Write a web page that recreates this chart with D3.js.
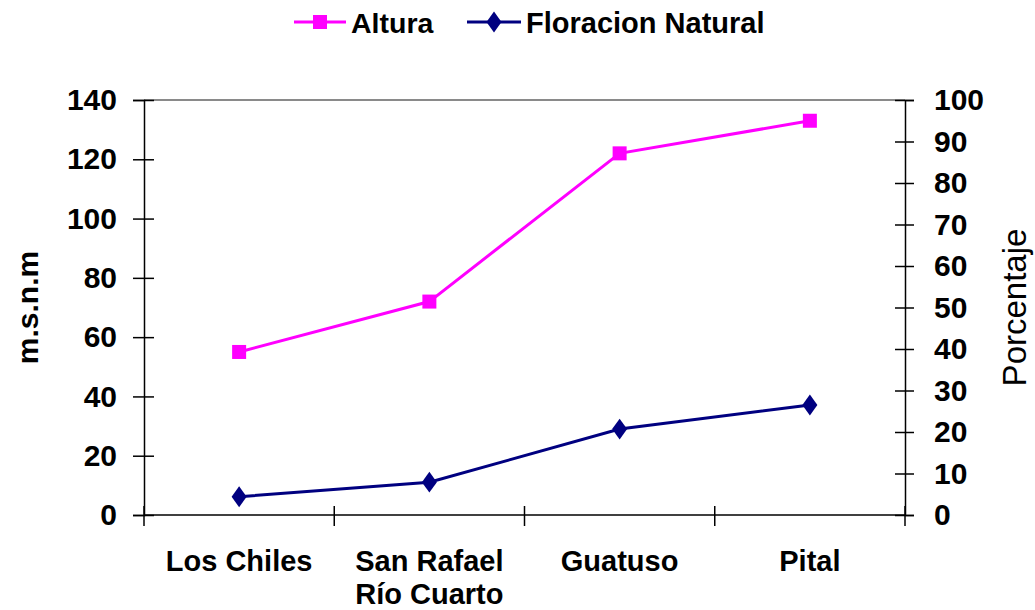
<!DOCTYPE html>
<html>
<head>
<meta charset="utf-8">
<script src="https://cdn.jsdelivr.net/npm/d3@7"></script>
<style>
  body { margin: 0; background: #fff; }
  text { font-family: "Liberation Sans", Arial, sans-serif; fill: #000; }
</style>
</head>
<body>
<div id="chart"></div>
<script>
// data
const categories = ["Los Chiles", "San Rafael\nRío Cuarto", "Guatuso", "Pital"]
const altura = [55, 72, 122, 133]          // m.s.n.m (left axis)
const floracion = [4.4, 7.9, 20.7, 26.5]   // Porcentaje (right axis)
const leftTicks = [0, 20, 40, 60, 80, 100, 120, 140]
const rightTicks = [0, 10, 20, 30, 40, 50, 60, 70, 80, 90, 100]

// const
const width = 1035
const height = 610
const margin = { top: 100, bottom: 95, left: 144, right: 130 }

const svg = d3.select("#chart")
    .append("svg")
    .attr("width", width)
    .attr("height", height)

const x = d3.scaleBand()
    .domain(categories)
    .range([margin.left, width - margin.right])

const yL = d3.scaleLinear().domain([0, 140]).range([height - margin.bottom, margin.top])
const yR = d3.scaleLinear().domain([0, 100]).range([height - margin.bottom, margin.top])

// top border of plot area
svg.append("line")
    .attr("x1", margin.left).attr("x2", width - margin.right)
    .attr("y1", margin.top).attr("y2", margin.top)
    .attr("stroke", "#8a8a8a").attr("stroke-width", 2)

// left axis
const leftAxis = svg.append("g")
    .attr("transform", `translate(${margin.left},0)`)
    .call(d3.axisLeft(yL).tickValues(leftTicks).tickSizeOuter(0).tickSize(11).tickPadding(16))
leftAxis.selectAll(".tick line").attr("x1", 10)
leftAxis.selectAll("text").style("font-size", "30px").style("font-weight", "bold")

// right axis
const rightAxis = svg.append("g")
    .attr("transform", `translate(${width - margin.right},0)`)
    .call(d3.axisRight(yR).tickValues(rightTicks).tickSizeOuter(0).tickSize(9).tickPadding(20))
rightAxis.selectAll(".tick line").attr("x1", -10)
rightAxis.selectAll("text").style("font-size", "30px").style("font-weight", "bold")

// bottom axis: ticks at band boundaries
const bottomAxis = svg.append("g")
    .attr("transform", `translate(0,${height - margin.bottom})`)
bottomAxis.append("line")
    .attr("x1", margin.left).attr("x2", width - margin.right)
    .attr("stroke", "#000").attr("stroke-width", 1.5)
const bounds = categories.map(c => x(c)).concat([x(categories[categories.length - 1]) + x.bandwidth()])
bottomAxis.selectAll(".btick").data(bounds).enter().append("line")
    .attr("x1", d => d).attr("x2", d => d)
    .attr("y1", -9).attr("y2", 11)
    .attr("stroke", "#000").attr("stroke-width", 1.5)

bottomAxis.selectAll(".cat").data(categories).enter().append("text")
    .attr("x", d => x(d) + x.bandwidth() / 2)
    .attr("y", 56)
    .attr("text-anchor", "middle")
    .style("font-size", "29px").style("font-weight", "bold")
    .each(function (d) {
        d.split("\n").forEach((line, i) => {
            d3.select(this).append("tspan")
                .attr("x", x(d) + x.bandwidth() / 2)
                .attr("dy", i === 0 ? 0 : 32.5)
                .text(line)
        })
    })

svg.selectAll(".domain, .tick line").attr("stroke", "#000").attr("stroke-width", 1.5)

// axis titles
svg.append("text")
    .attr("transform", `translate(38,${(yL(0) + yL(140)) / 2}) rotate(-90)`)
    .attr("text-anchor", "middle")
    .style("font-size", "30px").style("font-weight", "bold")
    .text("m.s.n.m")

svg.append("text")
    .attr("transform", `translate(1026,${(yR(0) + yR(100)) / 2}) rotate(-90)`)
    .attr("text-anchor", "middle")
    .style("font-size", "33px")
    .text("Porcentaje")

const cx = d => x(d) + x.bandwidth() / 2

// Altura line
svg.append("path")
    .datum(altura)
    .attr("fill", "none")
    .attr("stroke", "#ff00ff")
    .attr("stroke-width", 3)
    .attr("d", d3.line().x((d, i) => cx(categories[i])).y(d => yL(d)))

svg.selectAll(".sq").data(altura).enter().append("rect")
    .attr("x", (d, i) => cx(categories[i]) - 7)
    .attr("y", d => yL(d) - 7)
    .attr("width", 14).attr("height", 14)
    .attr("fill", "#ff00ff")

// Floracion line
svg.append("path")
    .datum(floracion)
    .attr("fill", "none")
    .attr("stroke", "#000080")
    .attr("stroke-width", 3)
    .attr("d", d3.line().x((d, i) => cx(categories[i])).y(d => yR(d)))

const diamond = d3.symbol().type(d3.symbolDiamond).size(125)
svg.selectAll(".dm").data(floracion).enter().append("path")
    .attr("transform", (d, i) => `translate(${cx(categories[i])},${yR(d)}) scale(1.25,1)`)
    .attr("d", diamond)
    .attr("fill", "#000080")

// legend
const legend = svg.append("g")
legend.append("line").attr("x1", 294).attr("x2", 346).attr("y1", 22).attr("y2", 22)
    .attr("stroke", "#ff00ff").attr("stroke-width", 3)
legend.append("rect").attr("x", 313).attr("y", 15).attr("width", 14).attr("height", 14)
    .attr("fill", "#ff00ff")
legend.append("text").attr("x", 351).attr("y", 33)
    .style("font-size", "28.5px").style("font-weight", "bold").text("Altura")

legend.append("line").attr("x1", 467).attr("x2", 521).attr("y1", 22).attr("y2", 22)
    .attr("stroke", "#000080").attr("stroke-width", 3)
legend.append("path").attr("transform", "translate(494,22) scale(1.25,1)")
    .attr("d", diamond).attr("fill", "#000080")
legend.append("text").attr("x", 526).attr("y", 33)
    .style("font-size", "29px").style("font-weight", "bold").text("Floracion Natural")
</script>
</body>
</html>
